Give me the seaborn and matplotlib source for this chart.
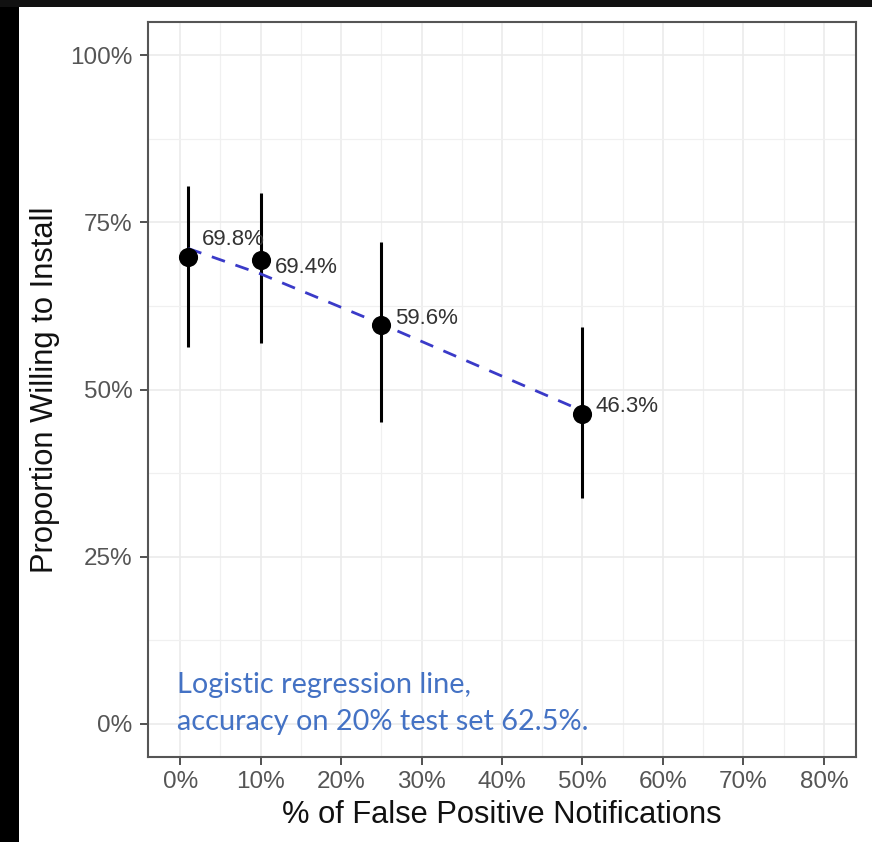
import matplotlib
matplotlib.use("Agg")
import matplotlib.pyplot as plt
import matplotlib.patches as mpatches
from matplotlib.ticker import FixedLocator, FuncFormatter
import seaborn as sns
import pandas as pd

# ---- data ----
fp_rate = [0.01, 0.10, 0.25, 0.50]
proportion = [0.698, 0.694, 0.596, 0.463]
ci_low = [0.563, 0.569, 0.451, 0.337]
ci_high = [0.804, 0.794, 0.721, 0.593]
point_labels = ["69.8%", "69.4%", "59.6%", "46.3%"]

fit_x = [0.01, 0.10, 0.25, 0.50]
fit_y = [0.711, 0.673, 0.598, 0.468]

x_ticks = [0.0, 0.1, 0.2, 0.3, 0.4, 0.5, 0.6, 0.7, 0.8]
y_ticks = [0.0, 0.25, 0.5, 0.75, 1.0]

note_lines = ["Logistic regression line,", "accuracy on 20% test set 62.5%."]

df = pd.DataFrame({"fp": fp_rate, "prop": proportion, "lo": ci_low, "hi": ci_high})
fit_df = pd.DataFrame({"fp": fit_x, "prop": fit_y})

sns.set_theme(style="white")
plt.rcParams["font.family"] = ["Liberation Sans", "DejaVu Sans"]

W, H = 872, 842
fig = plt.figure(figsize=(W / 100, H / 100), dpi=100)
fig.patch.set_facecolor("white")

L, R, T, B = 148, 856, 22, 757
ax = fig.add_axes([L / W, 1 - B / H, (R - L) / W, (B - T) / H])

ax.set_xlim(-0.04, 0.84)
ax.set_ylim(-0.05, 1.05)

# grid (major + minor, ggplot theme_bw style)
ax.xaxis.set_major_locator(FixedLocator(x_ticks))
ax.yaxis.set_major_locator(FixedLocator(y_ticks))
ax.xaxis.set_minor_locator(FixedLocator([t + 0.05 for t in x_ticks[:-1]]))
ax.yaxis.set_minor_locator(FixedLocator([t + 0.125 for t in y_ticks[:-1]]))
ax.grid(which="major", color="#EBEBEB", linewidth=1.2, zorder=0)
ax.grid(which="minor", color="#F0F0F0", linewidth=0.9, zorder=0)
ax.set_axisbelow(True)

# error bars
ax.vlines(df["fp"], df["lo"], df["hi"], color="black", linewidth=2.2, zorder=3)

# regression line
sns.lineplot(data=fit_df, x="fp", y="prop", ax=ax, color="#3A3AC8",
             linewidth=2.0, dashes=False, zorder=4)
ax.lines[-1].set_dashes([5, 4])

# points
sns.scatterplot(data=df, x="fp", y="prop", ax=ax, color="black", s=190,
                edgecolor="black", linewidth=0, zorder=5)

# point labels
offsets = [(14, 18), (14, -8), (14, 7), (13, 8)]
for x, y, lab, (dx, dy) in zip(fp_rate, proportion, point_labels, offsets):
    ax.annotate(lab, (x, y), xytext=(dx, dy), textcoords="offset pixels",
                ha="left", va="center", fontsize=16, color="#333333", zorder=6)

# formatting
fmt = FuncFormatter(lambda v, p: f"{v * 100:.0f}%")
ax.xaxis.set_major_formatter(fmt)
ax.yaxis.set_major_formatter(fmt)
ax.tick_params(axis="both", which="major", direction="out", length=6, width=1.2,
               color="#333333", labelcolor="#555555", labelsize=17.5, pad=4,
               bottom=True, left=True)
ax.tick_params(axis="y", which="major", pad=5)
ax.tick_params(axis="both", which="minor", length=0)

for sp in ax.spines.values():
    sp.set_color("#555555")
    sp.set_linewidth(1.5)

ax.set_xlabel("% of False Positive Notifications", fontsize=22.2, color="#111111")
ax.set_ylabel("Proportion Willing to Install", fontsize=22.2, color="#111111")
ax.xaxis.label.set_va("center")
ax.yaxis.label.set_va("center")
ax.xaxis.set_label_coords(0.5, (B - 815) / (B - T))
ax.yaxis.set_label_coords((45 - L) / (R - L), 0.5)

# blue annotation
ax.text((177 - L) / (R - L), (B - 685) / (B - T), note_lines[0], transform=ax.transAxes,
        ha="left", va="center", fontsize=20.8, color="#4472C4", family=["Lato", "DejaVu Sans"])
ax.text((177 - L) / (R - L), (B - 722) / (B - T), note_lines[1], transform=ax.transAxes,
        ha="left", va="center", fontsize=20.8, color="#4472C4", family=["Lato", "DejaVu Sans"])

# dark frame strips of the screenshot
fig.patches.append(mpatches.Rectangle((0, 0), 19 / W, 1, transform=fig.transFigure,
                                      facecolor="black", edgecolor="none", zorder=10))
fig.patches.append(mpatches.Rectangle((0, 1 - 7 / H), 1, 7 / H, transform=fig.transFigure,
                                      facecolor="#111111", edgecolor="none", zorder=10))

fig.savefig("out.png", dpi=100, facecolor="white")
